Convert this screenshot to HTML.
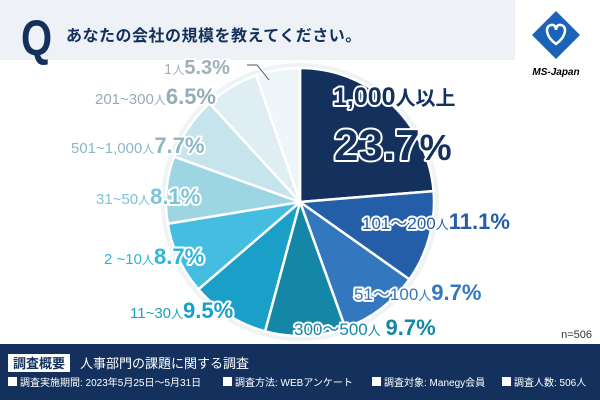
<!DOCTYPE html>
<html><head><meta charset="utf-8"><style>
body{margin:0;width:600px;height:400px;overflow:hidden;background:#fff;font-family:"Liberation Sans","Noto Sans CJK JP",sans-serif;position:relative}
svg{position:absolute;left:0;top:0}
</style></head><body>
<svg width="600" height="400" viewBox="0 0 600 400" font-family="Liberation Sans, Noto Sans CJK JP, sans-serif">
<rect x="0" y="0" width="600" height="60" fill="#eef1f5"/>
<text transform="translate(21,55) scale(0.8,1)" font-size="50" font-weight="bold" fill="#13315c">Q</text>
<text x="66" y="41" font-size="16" font-weight="bold" fill="#13315c" letter-spacing="0.5">あなたの会社の規模を教えてください。</text>
<rect x="515" y="0" width="85" height="84" fill="#fff"/>
<g transform="translate(556,35) rotate(45)"><rect x="-17" y="-17" width="34" height="34" fill="#1a63b8"/></g>
<path d="M556 44 C545 36 545 26 551 25 C555 24 556 28 556 30 C556 28 557 24 561 25 C567 26 567 36 556 44 Z" fill="none" stroke="#fff" stroke-width="2.5"/>
<text x="556" y="75" font-size="10" font-weight="bold" font-style="italic" fill="#000" text-anchor="middle">MS-Japan</text>
<circle cx="300" cy="202" r="139" fill="#eef3f6"/>
<g id="pie" stroke="#fff" stroke-width="2.5" stroke-linejoin="round"></g>
<g stroke="#fff" stroke-width="4" paint-order="stroke" stroke-linejoin="round">
<text x="333" y="105" font-size="25" font-weight="bold" fill="#13315c">1,000<tspan font-size="20">人以上</tspan></text>
<text x="334" y="160" font-size="44" font-weight="bold" fill="#13315c">23.7<tspan font-size="36">%</tspan></text>
<text x="362" y="229" font-size="17" fill="#245ea8">101～200<tspan font-size="13">人</tspan><tspan font-size="22" font-weight="bold">11.1%</tspan></text>
<text x="354" y="300" font-size="17" fill="#3378bf">51～100<tspan font-size="13">人</tspan><tspan font-size="22" font-weight="bold">9.7%</tspan></text>
<text x="294" y="335" font-size="17" fill="#1487a6">300～500<tspan font-size="13">人</tspan> <tspan font-size="22" font-weight="bold">9.7%</tspan></text>
<text x="130" y="318" font-size="15" fill="#1aa0c8">11~30<tspan font-size="12">人</tspan><tspan font-size="22" font-weight="bold">9.5%</tspan></text>
<text x="104" y="264" font-size="15" fill="#2fb4dc">2 ~10<tspan font-size="12">人</tspan><tspan font-size="22" font-weight="bold">8.7%</tspan></text>
<text x="96" y="204" font-size="15" fill="#7cc4d6">31~50<tspan font-size="12">人</tspan><tspan font-size="22" font-weight="bold">8.1%</tspan></text>
<text x="71" y="153" font-size="15" fill="#8bb8c4">501~1,000<tspan font-size="12">人</tspan><tspan font-size="22" font-weight="bold">7.7%</tspan></text>
<text x="95" y="104" font-size="15" fill="#93aeb6">201~300<tspan font-size="12">人</tspan><tspan font-size="22" font-weight="bold">6.5%</tspan></text>
<text x="164" y="74" font-size="15" fill="#9fb0b8">1<tspan font-size="12">人</tspan><tspan font-size="20" font-weight="bold">5.3%</tspan></text>
</g>
<path d="M247 65 L257 65 L269 80" fill="none" stroke="#555" stroke-width="1"/>
<text x="592" y="338" font-size="11" fill="#333" text-anchor="end">n=506</text>
<rect x="0" y="344" width="600" height="56" fill="#13315c"/>
<rect x="8" y="354" width="62" height="18" fill="#fff"/>
<text x="39" y="368" font-size="13" font-weight="bold" fill="#13315c" text-anchor="middle">調査概要</text>
<text x="80" y="368" font-size="13" fill="#fff">人事部門の課題に関する調査</text>
<g font-size="10" fill="#fff">
<rect x="8" y="377" width="9" height="9"/><text x="20" y="386">調査実施期間: 2023年5月25日～5月31日</text>
<rect x="223" y="377" width="9" height="9"/><text x="235" y="386">調査方法: WEBアンケート</text>
<rect x="372" y="377" width="9" height="9"/><text x="384" y="386">調査対象: Manegy会員</text>
<rect x="502" y="377" width="9" height="9"/><text x="514" y="386">調査人数: 506人</text>
</g>
</svg>
<script>
var d=[[23.7,"#13315c"],[11.1,"#245ea8"],[9.7,"#3378bf"],[9.7,"#1487a6"],[9.5,"#1aa0c8"],[8.7,"#44bde0"],[8.1,"#9ed5e3"],[7.7,"#c6e4ec"],[6.5,"#dfeef2"],[5.3,"#eef6f9"]];
var cx=300,cy=202,r=134,a=0,g=document.getElementById("pie"),h="";
d.forEach(function(s){var a2=a+s[0]/100*2*Math.PI;
var x1=cx+r*Math.sin(a),y1=cy-r*Math.cos(a),x2=cx+r*Math.sin(a2),y2=cy-r*Math.cos(a2);
h+='<path d="M'+cx+' '+cy+' L'+x1+' '+y1+' A'+r+' '+r+' 0 '+((a2-a)>Math.PI?1:0)+' 1 '+x2+' '+y2+' Z" fill="'+s[1]+'"/>';a=a2;});
g.innerHTML=h;
</script>
</body></html>
